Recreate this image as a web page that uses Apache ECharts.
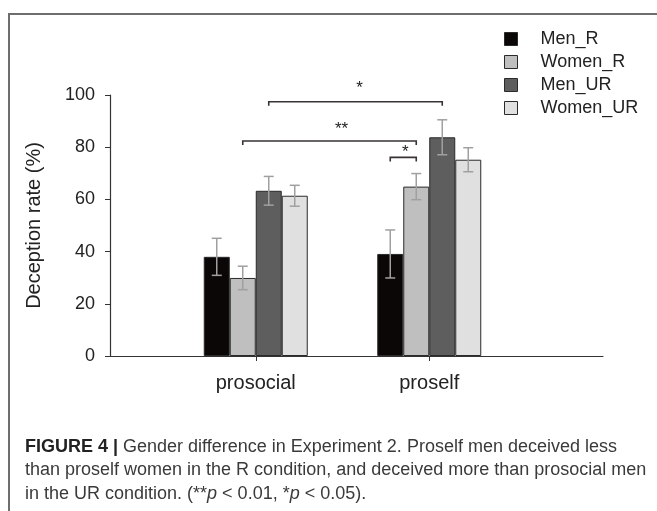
<!DOCTYPE html>
<html>
<head>
<meta charset="utf-8">
<script src="https://cdn.jsdelivr.net/npm/echarts@6/dist/echarts.min.js"></script>
<style>
  html, body { margin: 0; padding: 0; background: #fff; }
  #frame { position: absolute; left: 8px; top: 13px; width: 660px; height: 520px;
           border-top: 2px solid #6e6e6e; border-left: 2px solid #6e6e6e; }
  #chart { position: absolute; left: 0; top: 0; width: 657px; height: 511px; }
</style>
</head>
<body>
<div id="frame"></div>
<div id="chart"></div>
<script>
var categories = ['prosocial', 'proself'];
var seriesNames = ['Men_R', 'Women_R', 'Men_UR', 'Women_UR'];
var barColors = ['#0b0707', '#bfbfbf', '#5e5e5e', '#e0e0e0'];

// 均值
var menR = [38.0, 39.1];
var womenR = [29.9, 64.9];
var menUR = [63.3, 83.8];
var womenUR = [61.4, 75.2];

// 误差 (±)
var menRErr = [7.1, 9.2];
var womenRErr = [4.5, 5.0];
var menURErr = [5.5, 6.7];
var womenURErr = [4.0, 4.6];

// 显著性标记: [类别1, 系列1, 类别2, 系列2, 高度, 标记]
var brackets = [
    [0, 2, 1, 2, 97.4, '*'],
    [0, 1, 1, 1, 82.4, '**'],
    [1, 0, 1, 1, 76.1, '*']
];
// 星号相对括号中点的偏移 (像素)
var starOffsets = [[4, -16], [12, -15], [2, -8]];

var yTicks = [0, 20, 40, 60, 80, 100];

var barW = 26;
var allMeans = [menR, womenR, menUR, womenUR];
var allErrs = [menRErr, womenRErr, menURErr, womenURErr];

var errData = [];
for (var s = 0; s < allMeans.length; s++) {
    for (var c = 0; c < categories.length; c++) {
        errData.push([c, s, allMeans[s][c] - allErrs[s][c], allMeans[s][c] + allErrs[s][c]]);
    }
}

var myChart = echarts.init(document.getElementById('chart'));

var series = [];
for (var i = 0; i < seriesNames.length; i++) {
    series.push({
        name: seriesNames[i],
        type: 'bar',
        xAxisIndex: 1,
        yAxisIndex: 1,
        barWidth: barW,
        barGap: '0%',
        itemStyle: { color: barColors[i], borderColor: '#2a2a2a', borderWidth: 1 },
        data: allMeans[i]
    });
}

// 误差线
series.push({
    type: 'custom',
    xAxisIndex: 1,
    yAxisIndex: 1,
    z: 5,
    encode: { x: 0, y: [2, 3] },
    renderItem: function (params, api) {
        var x = api.coord([api.value(0), 0])[0] + (api.value(1) - 1.5) * barW;
        var yLo = api.coord([api.value(0), api.value(2)])[1];
        var yHi = api.coord([api.value(0), api.value(3)])[1];
        var st = { stroke: '#a0a0a0', lineWidth: 1.5 };
        return {
            type: 'group',
            children: [
                { type: 'line', shape: { x1: x, y1: yLo, x2: x, y2: yHi }, style: st },
                { type: 'line', shape: { x1: x - 5, y1: yHi, x2: x + 5, y2: yHi }, style: st },
                { type: 'line', shape: { x1: x - 5, y1: yLo, x2: x + 5, y2: yLo }, style: st }
            ]
        };
    },
    data: errData
});

// 显著性括号
series.push({
    type: 'custom',
    xAxisIndex: 1,
    yAxisIndex: 1,
    z: 6,
    encode: { x: 0, y: 4 },
    renderItem: function (params, api) {
        var b = brackets[params.dataIndex];
        var off = starOffsets[params.dataIndex];
        var x1 = api.coord([b[0], 0])[0] + (b[1] - 1.5) * barW;
        var x2 = api.coord([b[2], 0])[0] + (b[3] - 1.5) * barW;
        var y = api.coord([b[0], b[4]])[1];
        return {
            type: 'group',
            children: [
                {
                    type: 'polyline',
                    shape: { points: [[x1, y + 4], [x1, y], [x2, y], [x2, y + 4]] },
                    style: { stroke: '#3a3333', lineWidth: 1.6, fill: null }
                },
                {
                    type: 'text',
                    style: {
                        x: (x1 + x2) / 2 + off[0], y: y + off[1] + 3, text: b[5],
                        align: 'center', verticalAlign: 'middle',
                        font: '17px "Liberation Sans", Arial, sans-serif', fill: '#222'
                    }
                }
            ]
        };
    },
    data: brackets.map(function (b) { return [b[0], b[1], b[2], b[3], b[4]]; })
});

var option = {
    animation: false,
    title: {
        left: 20,
        top: 430,
        text: '{b|FIGURE 4 |} {n|Gender difference in Experiment 2. Proself men deceived less}\n' +
              '{n|than proself women in the R condition, and deceived more than prosocial men}\n' +
              '{n|in the UR condition. (**}{i|p}{n| < 0.01, *}{i|p}{n| < 0.05).}',
        textStyle: {
            fontWeight: 'normal',
            rich: {
                b: { fontFamily: 'Liberation Sans', fontWeight: 'bold', fontSize: 18, color: '#222', lineHeight: 23.5 },
                n: { fontFamily: 'Liberation Sans', fontWeight: 'normal', fontSize: 18, color: '#3a3a3a', lineHeight: 23.5 },
                i: { fontFamily: 'Liberation Sans', fontWeight: 'normal', fontStyle: 'italic', fontSize: 18, color: '#3a3a3a', lineHeight: 23.5 }
            }
        }
    },
    legend: {
        data: seriesNames,
        orient: 'vertical',
        left: 499,
        top: 25,
        itemWidth: 13,
        itemHeight: 13,
        itemGap: 5,
        icon: 'rect',
        itemStyle: { borderColor: '#2a2a2a', borderWidth: 1 },
        textStyle: { fontFamily: 'Liberation Sans', fontSize: 18, color: '#222', padding: [0, 0, 0, 18] }
    },
    grid: [
        { left: 110, right: 54, top: 95, bottom: 155 },
        { left: 169, right: 141, top: 95, bottom: 155 }
    ],
    xAxis: [
        {
            gridIndex: 0, type: 'value', min: 0, max: 1,
            axisLine: { show: true, lineStyle: { color: '#333', width: 1.2 } },
            axisTick: { show: false }, axisLabel: { show: false }, splitLine: { show: false }
        },
        {
            gridIndex: 1, type: 'category', data: categories,
            axisLine: { show: false },
            axisTick: { show: true, alignWithLabel: true, length: 5, lineStyle: { color: '#333' } },
            axisLabel: { margin: 17, fontFamily: 'Liberation Sans', fontSize: 20, color: '#222' }
        }
    ],
    yAxis: [
        {
            gridIndex: 0, type: 'value', min: 0, max: 100, interval: 20,
            name: 'Deception rate (%)', nameLocation: 'middle', nameGap: 66,
            nameTextStyle: { fontFamily: 'Liberation Sans', fontSize: 20, color: '#222' },
            axisLine: { show: true, lineStyle: { color: '#333', width: 1.2 } },
            axisTick: { show: true, length: 5, lineStyle: { color: '#333' } },
            axisLabel: { margin: 15, fontFamily: 'Liberation Sans', fontSize: 18, color: '#222',
                formatter: function (v) { return yTicks.indexOf(v) >= 0 ? String(v) : ''; } },
            splitLine: { show: false }
        },
        {
            gridIndex: 1, type: 'value', min: 0, max: 100, interval: 20, show: false,
            splitLine: { show: false }
        }
    ],
    series: series
};

myChart.setOption(option);
</script>
</body>
</html>
